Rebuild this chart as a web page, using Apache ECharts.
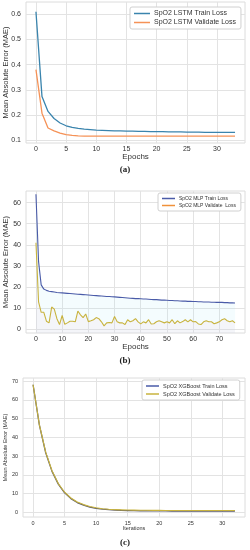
<!DOCTYPE html>
<html><head><meta charset="utf-8">
<script src="https://cdn.jsdelivr.net/npm/echarts@6/dist/echarts.min.js"></script>
<style>html,body{margin:0;padding:0;background:#fff}#c{width:250px;height:550px}</style>
</head><body><div id="c"></div>
<script>
// ---- Panel (a): LSTM ----
const lstmTrain = [0.61,0.273,0.214,0.186,0.168,0.157,0.151,0.147,0.144,0.142,0.140,0.139,0.138,0.137,0.137,0.136,0.136,0.135,0.135,0.134,0.134,0.134,0.133,0.133,0.133,0.132,0.132,0.132,0.131,0.131,0.131,0.131,0.131,0.131];
const lstmVal = [0.38,0.207,0.148,0.137,0.128,0.122,0.119,0.117,0.116,0.116,0.116,0.116,0.116,0.116,0.116,0.116,0.116,0.116,0.116,0.116,0.116,0.116,0.116,0.116,0.116,0.116,0.116,0.116,0.116,0.116,0.116,0.116,0.116,0.116];
const lstmXTicks = [0,5,10,15,20,25,30];
const lstmYTicks = [0.1,0.2,0.3,0.4,0.5,0.6];
// ---- Panel (b): MLP ----
const mlpTrain = [64,32,21,19,18.4,18.0,17.8,17.6,17.4,17.3,17.2,17.1,17.0,16.9,16.8,16.7,16.6,16.5,16.4,16.3,16.2,16.1,16.0,15.9,15.8,15.7,15.6,15.5,15.5,15.4,15.3,15.2,15.1,15.0,14.9,14.8,14.7,14.6,14.5,14.5,14.4,14.3,14.3,14.2,14.1,14.0,14.0,13.9,13.8,13.8,13.7,13.6,13.6,13.5,13.5,13.4,13.3,13.3,13.2,13.2,13.1,13.1,13.0,13.0,12.9,12.9,12.9,12.8,12.8,12.7,12.7,12.7,12.6,12.6,12.5,12.5,12.4];
const mlpVal = [41,13,8,8,3.8,3,10.5,9.5,5,2.2,6.5,2.3,3,3.8,3.8,3.5,8.6,6.8,5.5,7.2,3.6,4,4.5,5.5,5,3.5,1.6,3,3.2,3,6,3.5,3,3,2.2,4.5,3.5,4,5,3.5,2.5,3.5,3,4.5,2.5,2.6,3.5,4,3.5,3,3.5,3,4.5,2.6,4,3,3.6,4.5,3.5,4.5,3.5,3.6,2.5,2.2,3.5,4,3.5,3.5,2.6,3,3.5,4.5,5,4,3.5,4,3];
const mlpXTicks = [0,10,20,30,40,50,60,70];
const mlpYTicks = [0,10,20,30,40,50,60];
// ---- Panel (c): XGBoost ----
const xgbTrain = [68.0,46.5,31.8,21.9,15.1,10.5,7.4,5.3,3.9,2.9,2.2,1.8,1.5,1.3,1.1,1.0,0.95,0.9,0.9,0.85,0.85,0.85,0.8,0.8,0.8,0.8,0.8,0.8,0.8,0.8,0.8,0.8,0.8];
const xgbVal = [68.0,46.7,32.1,22.2,15.4,10.8,7.7,5.6,4.2,3.2,2.5,2.0,1.7,1.5,1.4,1.3,1.25,1.2,1.2,1.15,1.15,1.1,1.1,1.1,1.1,1.1,1.1,1.1,1.1,1.1,1.1,1.1,1.1];
const xgbXTicks = [0,5,10,15,20,25,30];
const xgbYTicks = [0,10,20,30,40,50,60,70];

const FONT = 'Liberation Sans';
const pts = arr => arr.map((v,i)=>[i,v]);
const gridLine = {show:true,lineStyle:{color:'#e3e3e3',width:1}};
function xAxis(idx,min,max,ticks,name,fs,gap,nfs){
  return {type:'value',gridIndex:idx,min:min,max:max,
    axisLine:{show:false},axisTick:{show:false,customValues:ticks},
    axisLabel:{customValues:ticks,color:'#333',fontSize:fs,fontFamily:FONT,margin:3},
    splitLine:gridLine,name:name,nameLocation:'middle',nameGap:gap,nameMoveOverlap:false,
    nameTextStyle:{color:'#333',fontSize:nfs,fontFamily:FONT}};
}
function yAxis(idx,min,max,ticks,fmt,fs,gap,nfs){
  return {type:'value',gridIndex:idx,min:min,max:max,
    axisLine:{show:false},axisTick:{show:false,customValues:ticks},
    axisLabel:{customValues:ticks,color:'#333',fontSize:fs,fontFamily:FONT,margin:5,formatter:fmt},
    splitLine:gridLine,name:'Mean Absolute Error (MAE)',nameLocation:'middle',nameGap:gap,nameMoveOverlap:false,
    nameTextStyle:{color:'#333',fontSize:nfs,fontFamily:FONT}};
}
function legend(left,top,names,fs,iw,gap){
  return {left:left,top:top,orient:'vertical',data:names,icon:'rect',itemWidth:iw,itemHeight:1.5,
    itemGap:gap,padding:[3,5,3,4],backgroundColor:'#fff',borderColor:'#d0d0d0',borderWidth:1,borderRadius:2,
    textStyle:{fontSize:fs,fontFamily:FONT,color:'#333',padding:[0,0,0,-1]}};
}
const C_BLUE='#3a84ad', C_ORANGE='#f59257', C_NAVY='#4a5ba8', C_OLIVE='#c8b33e', C_MORANGE='#f0913a';
const valGrad = new echarts.graphic.LinearGradient(0,0,1,0,[
  {offset:0,color:C_MORANGE},{offset:0.006,color:C_MORANGE},{offset:0.01,color:C_OLIVE},{offset:1,color:C_OLIVE}]);
const gridBase = {show:true,borderColor:'#dcdcdc',borderWidth:1,outerBoundsMode:'none',containLabel:false};
const option = {
  animation:false,
  grid:[
    Object.assign({left:26,top:2,width:219,height:141},gridBase),
    Object.assign({left:26,top:191,width:219,height:142},gridBase),
    Object.assign({left:23,top:378,width:222,height:139},gridBase)
  ],
  xAxis:[
    xAxis(0,-1.65,34.65,lstmXTicks,'Epochs',7,10,8),
    xAxis(1,-3.8,79.8,mlpXTicks,'Epochs',7,10,8),
    xAxis(2,-1.6,33.6,xgbXTicks,'Iterations',5.5,8,5.5)
  ],
  yAxis:[
    yAxis(0,0.0885,0.649,lstmYTicks,v=>v.toFixed(1),7,16,7.5),
    yAxis(1,-1.8,65.5,mlpYTicks,null,7,16,7.5),
    yAxis(2,-2.4,71.6,xgbYTicks,null,5.5,15,5.5)
  ],
  legend:[
    legend(130,7,['SpO2 LSTM Train Loss','SpO2 LSTM Validate Loss'],7,16,2),
    legend(158,193,['SpO2 MLP Train Loss','SpO2 MLP Validate  Loss'],5,13,2),
    legend(142,380,['SpO2 XGBoost Train Loss','SpO2 XGBoost Validate Loss'],5.5,13,2)
  ],
  series:[
    {name:'SpO2 LSTM Train Loss',type:'line',xAxisIndex:0,yAxisIndex:0,data:pts(lstmTrain),showSymbol:false,color:C_BLUE,lineStyle:{width:1.3}},
    {name:'SpO2 LSTM Validate Loss',type:'line',xAxisIndex:0,yAxisIndex:0,data:pts(lstmVal),showSymbol:false,color:C_ORANGE,lineStyle:{width:1.3}},
    {name:'SpO2 MLP Train Loss',type:'line',xAxisIndex:1,yAxisIndex:1,data:pts(mlpTrain),showSymbol:false,color:C_NAVY,lineStyle:{width:1.1},
      areaStyle:{color:'rgba(170,235,245,0.18)',origin:'start'}},
    {name:'SpO2 MLP Validate  Loss',type:'line',xAxisIndex:1,yAxisIndex:1,data:pts(mlpVal),showSymbol:false,color:C_MORANGE,lineStyle:{width:1.1,color:valGrad},
      areaStyle:{color:'rgba(250,200,215,0.18)',origin:'start'}},
    {name:'SpO2 XGBoost Train Loss',type:'line',xAxisIndex:2,yAxisIndex:2,data:pts(xgbTrain),showSymbol:false,color:C_NAVY,lineStyle:{width:1.3,color:'#5a5a6a'}},
    {name:'SpO2 XGBoost Validate Loss',type:'line',xAxisIndex:2,yAxisIndex:2,data:pts(xgbVal),showSymbol:false,color:C_OLIVE,lineStyle:{width:1.1}}
  ],
  graphic:[
    {type:'text',left:'center',top:165,style:{text:'(a)',font:'bold 9px "Liberation Serif"',fill:'#222'}},
    {type:'text',left:'center',top:356,style:{text:'(b)',font:'bold 9px "Liberation Serif"',fill:'#222'}},
    {type:'text',left:'center',top:538,style:{text:'(c)',font:'bold 9px "Liberation Serif"',fill:'#222'}}
  ]
};
const chart = echarts.init(document.getElementById('c'),null,{renderer:'canvas'});
chart.setOption(option);
</script></body></html>
